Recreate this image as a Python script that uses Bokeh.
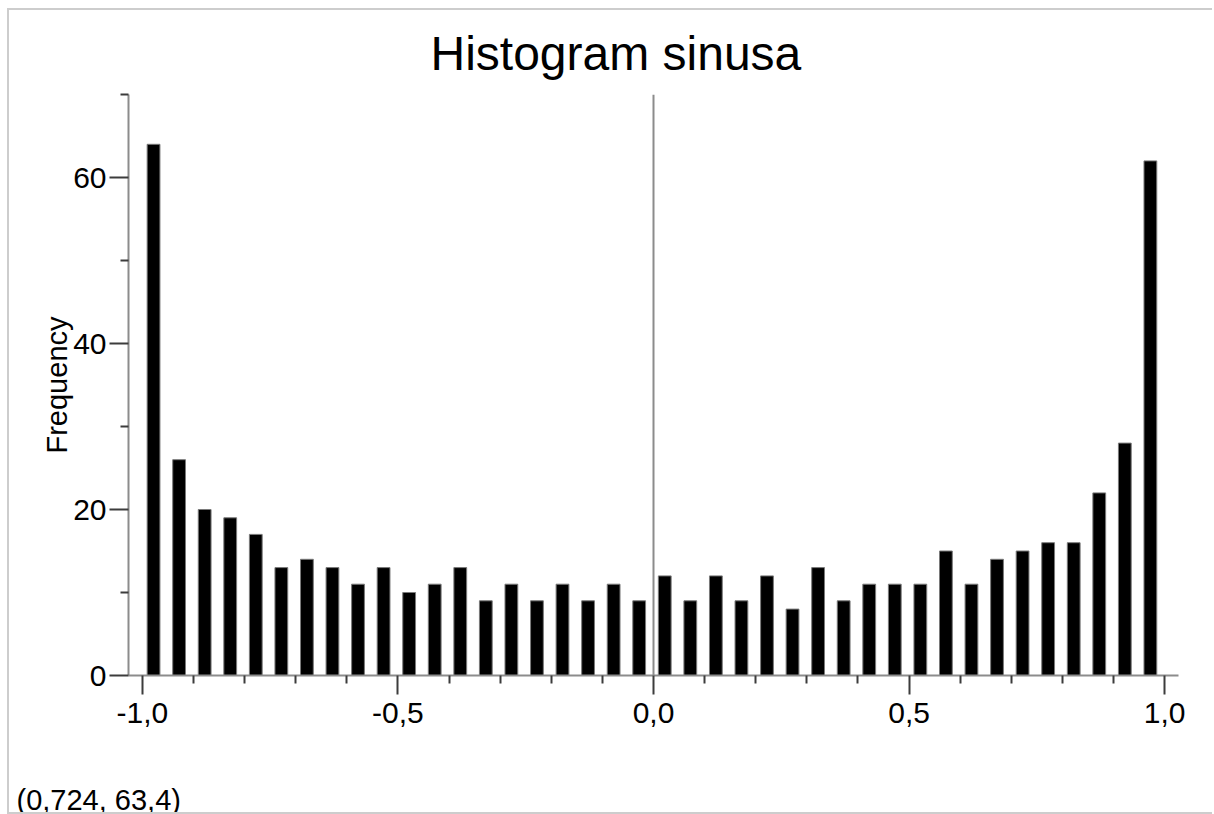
import numpy as np
from bokeh.plotting import figure
from bokeh.models import FixedTicker, Span, Label, Range1d
from bokeh.embed import file_html
from bokeh.resources import INLINE

# ---- data ----
bin_left = [-1.00, -0.95, -0.90, -0.85, -0.80, -0.75, -0.70, -0.65, -0.60, -0.55,
            -0.50, -0.45, -0.40, -0.35, -0.30, -0.25, -0.20, -0.15, -0.10, -0.05,
            0.00, 0.05, 0.10, 0.15, 0.20, 0.25, 0.30, 0.35, 0.40, 0.45,
            0.50, 0.55, 0.60, 0.65, 0.70, 0.75, 0.80, 0.85, 0.90, 0.95]
counts = [64, 26, 20, 19, 17, 13, 14, 13, 11, 13, 10, 11, 13, 9, 11, 9, 11, 9, 11, 9,
          12, 9, 12, 9, 12, 8, 13, 9, 11, 11, 11, 15, 11, 14, 15, 16, 16, 22, 28, 62]
x_major_ticks = [-1.0, -0.5, 0.0, 0.5, 1.0]
x_tick_labels = ["-1,0", "-0,5", "0,0", "0,5", "1,0"]
x_minor_ticks = [-0.9, -0.8, -0.7, -0.6, -0.4, -0.3, -0.2, -0.1,
                 0.1, 0.2, 0.3, 0.4, 0.6, 0.7, 0.8, 0.9]
y_major_ticks = [0, 20, 40, 60]
y_minor_ticks = [10, 30, 50, 70]
title_text = "Histogram sinusa"
y_label = "Frequency"
cursor_text = "(0,724, 63,4)"

FONT = "Liberation Sans"
AXIS_GRAY = "#8c8c8c"
TICK_DARK = "#3c3c3c"
FRAME_GRAY = "#cdcdcd"

p = figure(width=1205, height=806, output_backend="svg", toolbar_location=None,
           x_range=Range1d(-1.027, 1.027), y_range=Range1d(0, 70),
           min_border_left=119, min_border_right=36, min_border_top=84,
           min_border_bottom=141, title=title_text)

p.styles = {"margin-left": "7px", "margin-top": "8px",
            "border-top": f"2px solid {FRAME_GRAY}",
            "border-left": f"2px solid {FRAME_GRAY}",
            "border-bottom": f"2px solid {FRAME_GRAY}"}

p.outline_line_color = None
p.xgrid.visible = False
p.ygrid.visible = False
p.background_fill_color = "white"
p.border_fill_color = "white"

p.title.align = "left"
p.title.offset = 302
p.title.standoff = 28
p.title.vertical_align = "middle"
p.title.text_font = FONT
p.title.text_font_size = "48px"
p.title.text_font_style = "normal"
p.title.text_color = "black"

left = np.array(bin_left) + 0.0095
right = np.array(bin_left) + 0.0345
p.quad(left=left, right=right, bottom=0, top=counts,
       fill_color="black", line_color="#7a7a7a", line_width=1)

p.add_layout(Span(location=0, dimension="height", line_color=AXIS_GRAY, line_width=2))

for ax in (p.xaxis[0], p.yaxis[0]):
    ax.axis_line_color = AXIS_GRAY
    ax.axis_line_width = 2
    ax.major_tick_line_color = TICK_DARK
    ax.major_tick_line_width = 2
    ax.minor_tick_line_color = TICK_DARK
    ax.minor_tick_line_width = 2
    ax.major_tick_in = 0
    ax.minor_tick_in = 0
    ax.major_tick_out = 19
    ax.minor_tick_out = 8
    ax.major_label_text_font = FONT
    ax.major_label_text_font_size = "30px"
    ax.major_label_text_color = "black"

p.xaxis.ticker = FixedTicker(ticks=x_major_ticks, minor_ticks=x_minor_ticks)
p.xaxis.major_label_overrides = {t: l for t, l in zip(x_major_ticks, x_tick_labels)}
p.xaxis.major_label_standoff = 8

p.yaxis.ticker = FixedTicker(ticks=y_major_ticks, minor_ticks=y_minor_ticks)
p.yaxis.major_label_standoff = 3
p.yaxis.axis_label = y_label
p.yaxis.axis_label_text_font = FONT
p.yaxis.axis_label_text_font_size = "29px"
p.yaxis.axis_label_text_font_style = "normal"
p.yaxis.axis_label_text_color = "black"
p.yaxis.axis_label_standoff = -3

p.add_layout(Label(x=-112, y=-42, x_units="screen", y_units="screen",
                   text=cursor_text, text_font=FONT, text_font_size="29px",
                   text_color="black", text_baseline="alphabetic"), "below")

open("out.html", "w").write(file_html(p, INLINE))
